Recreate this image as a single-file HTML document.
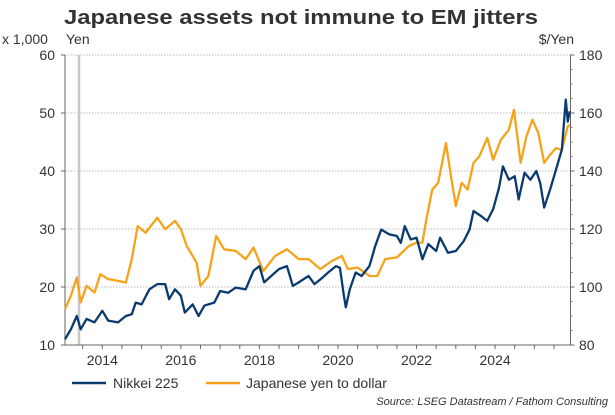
<!DOCTYPE html>
<html><head><meta charset="utf-8"><style>
body{margin:0;background:#fff;width:615px;height:410px;overflow:hidden;font-family:"Liberation Sans",Arial,sans-serif}
</style></head><body>
<svg id="chart" width="615" height="410" xmlns="http://www.w3.org/2000/svg" font-family="Liberation Sans, Arial, sans-serif">
<text x="64" y="24" font-size="20" font-weight="bold" fill="#333" textLength="474" lengthAdjust="spacingAndGlyphs">Japanese assets not immune to EM jitters</text>
<text x="2" y="44" font-size="14" fill="#333">x 1,000</text>
<text x="66" y="44" font-size="14" fill="#333">Yen</text>
<text x="574" y="44" font-size="14" fill="#333" text-anchor="end">$/Yen</text>
<g id="grid"></g><g id="axes"></g><g id="series"></g>
<g>
<line x1="72" y1="383" x2="106" y2="383" stroke="#0b3a6e" stroke-width="2.5"/>
<text x="113" y="388" font-size="14" fill="#333">Nikkei 225</text>
<line x1="206" y1="383" x2="240" y2="383" stroke="#f5a31a" stroke-width="2.5"/>
<text x="246" y="388" font-size="14" fill="#333">Japanese yen to dollar</text>
</g>
<text x="608" y="405" font-size="11" font-style="italic" fill="#333" text-anchor="end">Source: LSEG Datastream / Fathom Consulting</text>
</svg>
<script>
const leftTicks=[10,20,30,40,50,60];
const rightTicks=[80,100,120,140,160,180];
const yearTicks=[2014,2016,2018,2020,2022,2024];
const nikkeiYears=[2013.05,2013.2,2013.35,2013.45,2013.6,2013.8,2014.0,2014.15,2014.4,2014.6,2014.75,2014.85,2015.0,2015.2,2015.4,2015.6,2015.7,2015.85,2016.0,2016.1,2016.3,2016.45,2016.6,2016.85,2017.0,2017.2,2017.4,2017.65,2017.85,2018.0,2018.12,2018.3,2018.5,2018.7,2018.85,2019.0,2019.25,2019.4,2019.55,2019.75,2019.95,2020.05,2020.15,2020.2,2020.3,2020.45,2020.6,2020.8,2020.95,2021.1,2021.3,2021.5,2021.6,2021.7,2021.85,2022.0,2022.15,2022.3,2022.5,2022.6,2022.8,2023.0,2023.2,2023.35,2023.45,2023.65,2023.8,2023.95,2024.1,2024.2,2024.35,2024.5,2024.6,2024.75,2024.9,2025.05,2025.15,2025.25,2025.4,2025.55,2025.7,2025.8,2025.85,2025.9];
const nikkeiValues=[11.0,12.7,15.0,12.7,14.5,13.9,15.9,14.2,13.9,15.0,15.3,17.3,17.0,19.6,20.5,20.5,17.9,19.6,18.5,15.6,17.0,15.0,16.8,17.3,19.3,19.0,19.9,19.6,22.8,23.6,20.8,21.9,23.1,23.6,20.2,20.8,21.9,20.5,21.3,22.5,23.6,23.3,18.5,16.5,19.6,22.5,21.9,23.6,27.1,29.9,29.1,28.8,27.6,30.5,28.2,28.5,24.8,27.4,26.2,28.5,25.9,26.2,27.9,29.9,33.1,32.2,31.4,33.4,37.1,40.8,38.5,39.1,35.1,39.7,38.5,40.0,37.9,33.7,36.8,40.2,43.7,52.3,48.5,50.3];
const yenYears=[2013.05,2013.2,2013.35,2013.45,2013.6,2013.8,2013.95,2014.15,2014.4,2014.6,2014.75,2014.9,2015.1,2015.4,2015.6,2015.85,2016.0,2016.15,2016.4,2016.5,2016.7,2016.9,2017.1,2017.4,2017.65,2017.85,2018.1,2018.4,2018.7,2019.0,2019.25,2019.55,2019.85,2020.1,2020.25,2020.5,2020.8,2021.0,2021.2,2021.5,2021.8,2022.0,2022.15,2022.25,2022.4,2022.55,2022.75,2022.85,2023.0,2023.15,2023.3,2023.45,2023.6,2023.8,2023.95,2024.15,2024.35,2024.48,2024.65,2024.8,2024.95,2025.1,2025.25,2025.4,2025.55,2025.7,2025.85,2025.9];
const yenValues=[92.4,97.0,103.3,94.7,100.4,98.1,104.4,102.7,102.1,101.5,109.6,121.0,118.7,123.9,119.9,122.8,119.9,114.1,108.4,100.4,103.8,117.6,113.0,112.4,109.6,113.6,105.5,110.7,113.0,109.6,109.6,106.2,109.0,110.7,106.2,106.7,103.8,103.8,109.6,110.2,114.1,115.3,115.3,123.3,133.6,135.9,149.6,140.5,127.9,135.9,133.6,142.8,145.1,151.4,143.9,150.8,154.2,161.1,142.8,152.0,157.7,153.1,142.8,145.6,147.9,147.3,155.4,155.9];
const NS="http://www.w3.org/2000/svg";
const X0=65,X1=570.5,Y0=345,Y1=55,T0=2013.05,T1=2025.92;
const xs=y=>X0+(y-T0)/(T1-T0)*(X1-X0);
const yl=v=>Y0-(v-10)/50*(Y0-Y1);
const yr=v=>Y0-(v-80)/100*(Y0-Y1);
function mk(tag,attrs,parent){const e=document.createElementNS(NS,tag);for(const k in attrs)e.setAttribute(k,attrs[k]);parent.appendChild(e);return e;}
const grid=document.getElementById('grid'),axes=document.getElementById('axes'),series=document.getElementById('series');
leftTicks.forEach((v,i)=>{
  if(v>10){const g=mk('line',{x1:X0,x2:X1,y1:yl(v),y2:yl(v),stroke:'#bbb','stroke-dasharray':'1.5,1.5'},grid);
  
  }
  const t=mk('text',{x:55,y:yl(v)+5,'font-size':14,fill:'#333','text-anchor':'end'},axes);t.textContent=v;
  
  
  const tk=mk('line',{x1:X0-4,x2:X0,y1:yl(v),y2:yl(v),stroke:'#666'},axes);
  
  
});
for(let v=85;v<180;v+=5){const tk=mk('line',{x1:X1,x2:X1+2,y1:yr(v),y2:yr(v),stroke:'#888'},axes);
  
  }
rightTicks.forEach(v=>{
  const t=mk('text',{x:579,y:yr(v)+5,'font-size':14,fill:'#333'},axes);t.textContent=v;
  
  
  const tk=mk('line',{x1:X1,x2:X1+4,y1:yr(v),y2:yr(v),stroke:'#666'},axes);
  
  
});
for(let y=2013.5;y<=2025.9;y+=0.5){const tk=mk('line',{x1:xs(y),x2:xs(y),y1:Y0,y2:Y0+4,stroke:'#666'},axes);
  
  }
yearTicks.forEach(y=>{const t=mk('text',{x:xs(y),y:Y0+20,'font-size':14,fill:'#333','text-anchor':'middle'},axes);t.textContent=y;
  
  });
const ax=[[X0,Y1,X0,Y0],[X1,Y1,X1,Y0],[X0,Y0,X1,Y0]];
ax.forEach(a=>{const l=mk('line',{x1:a[0],y1:a[1],x2:a[2],y2:a[3],stroke:'#666'},axes);
  
  });
const vl=mk('line',{x1:79,x2:79,y1:Y1,y2:Y0,stroke:'#c8c8c8','stroke-width':2.5},grid);


const yp=mk('polyline',{points:yenYears.map((y,i)=>xs(y)+','+yr(yenValues[i])).join(' '),fill:'none',stroke:'#f5a31a','stroke-width':2.3,'stroke-linejoin':'round'},series);


const np=mk('polyline',{points:nikkeiYears.map((y,i)=>xs(y)+','+yl(nikkeiValues[i])).join(' '),fill:'none',stroke:'#0b3a6e','stroke-width':2.3,'stroke-linejoin':'round'},series);


</script>
</body></html>
